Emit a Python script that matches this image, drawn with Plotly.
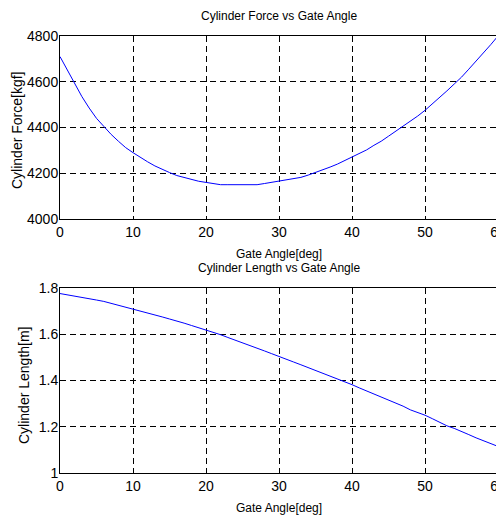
import plotly.graph_objects as go

angle_deg = list(range(0, 61))

cylinder_force_kgf = [
    4710, 4650, 4590, 4535, 4485, 4440, 4405, 4370, 4340, 4312,
    4290, 4268, 4250, 4232, 4216, 4203, 4190, 4181, 4172, 4165,
    4160, 4155, 4150, 4150, 4150, 4150, 4150, 4150, 4155, 4160,
    4166, 4171, 4176, 4182, 4192, 4203, 4215, 4227, 4240, 4256,
    4272, 4286, 4302, 4322, 4340, 4362, 4384, 4404, 4430, 4450,
    4475, 4502, 4530, 4560, 4590, 4620, 4655, 4690, 4725, 4762,
    4800,
]

cylinder_length_m = [
    1.776, 1.771, 1.766, 1.760, 1.754, 1.748, 1.742, 1.734, 1.726, 1.718,
    1.709, 1.700, 1.692, 1.684, 1.675, 1.666, 1.658, 1.648, 1.638, 1.628,
    1.620, 1.610, 1.598, 1.586, 1.575, 1.564, 1.553, 1.541, 1.528, 1.516,
    1.503, 1.492, 1.480, 1.468, 1.456, 1.444, 1.432, 1.420, 1.405, 1.394,
    1.382, 1.368, 1.355, 1.340, 1.329, 1.317, 1.303, 1.289, 1.273, 1.262,
    1.250, 1.235, 1.220, 1.204, 1.193, 1.181, 1.166, 1.152, 1.139, 1.126,
    1.115,
]

x_ticks = [0, 10, 20, 30, 40, 50, 60]
force_ticks = [4000, 4200, 4400, 4600, 4800]
length_ticks = [1, 1.2, 1.4, 1.6, 1.8]
length_tick_text = ["1", "1.2", "1.4", "1.6", "1.8"]

# page body has an 8px margin; figure sized to fit the 504x520 window
OFF = 8
W, H = 504 - OFF, 520 - OFF
FONT = "Liberation Sans, Arial, sans-serif"

def px_x(px):
    return (px - OFF) / W

def px_y(px):
    return 1 - (px - OFF) / H

fig = go.Figure()
fig.add_trace(go.Scatter(x=angle_deg, y=cylinder_force_kgf, mode="lines",
                         line=dict(color="#0000FF", width=1),
                         xaxis="x", yaxis="y", showlegend=False))
fig.add_trace(go.Scatter(x=angle_deg, y=cylinder_length_m, mode="lines",
                         line=dict(color="#0000FF", width=1),
                         xaxis="x2", yaxis="y2", showlegend=False))

axis_common = dict(
    showline=True, linecolor="black", linewidth=1, mirror=True,
    showgrid=True, gridcolor="black", gridwidth=1, griddash="6px,4px",
    zeroline=False, ticks="", automargin=False, ticklabeloverflow="allow",
    tickfont=dict(family=FONT, size=14, color="black"),
)

x_dom = [px_x(60), px_x(498)]
fig.update_layout(
    width=W, height=H,
    margin=dict(l=0, r=0, t=0, b=0, autoexpand=False),
    paper_bgcolor="white", plot_bgcolor="white",
    xaxis=dict(domain=x_dom, range=[0, 60], tickvals=x_ticks, anchor="y", **axis_common),
    yaxis=dict(domain=[px_y(219), px_y(36)], range=[4000, 4800], tickvals=force_ticks,
               anchor="x", ticklabelstandoff=-2, **axis_common),
    xaxis2=dict(domain=x_dom, range=[0, 60], tickvals=x_ticks, anchor="y2", **axis_common),
    yaxis2=dict(domain=[px_y(473), px_y(288)], range=[1, 1.8], tickvals=length_ticks,
                ticktext=length_tick_text, anchor="x2", ticklabelstandoff=-2, **axis_common),
    annotations=[
        dict(text="Cylinder Force vs Gate Angle", x=px_x(279), y=px_y(16), xref="paper", yref="paper",
             showarrow=False, font=dict(family=FONT, size=12, color="black"),
             xanchor="center", yanchor="middle"),
        dict(text="Gate Angle[deg]", x=px_x(279), y=px_y(254), xref="paper", yref="paper",
             showarrow=False, font=dict(family=FONT, size=12, color="black"),
             xanchor="center", yanchor="middle"),
        dict(text="Cylinder Length vs Gate Angle", x=px_x(279), y=px_y(268), xref="paper", yref="paper",
             showarrow=False, font=dict(family=FONT, size=12, color="black"),
             xanchor="center", yanchor="middle"),
        dict(text="Gate Angle[deg]", x=px_x(279), y=px_y(508), xref="paper", yref="paper",
             showarrow=False, font=dict(family=FONT, size=12, color="black"),
             xanchor="center", yanchor="middle"),
        dict(text="Cylinder Force[kgf]", x=px_x(17), y=px_y(131), xref="paper", yref="paper",
             showarrow=False, textangle=-90, font=dict(family=FONT, size=14, color="black"),
             xanchor="center", yanchor="middle"),
        dict(text="Cylinder Length[m]", x=px_x(24), y=px_y(385), xref="paper", yref="paper",
             showarrow=False, textangle=-90, font=dict(family=FONT, size=14, color="black"),
             xanchor="center", yanchor="middle"),
    ],
)

fig.write_html("out.html")
